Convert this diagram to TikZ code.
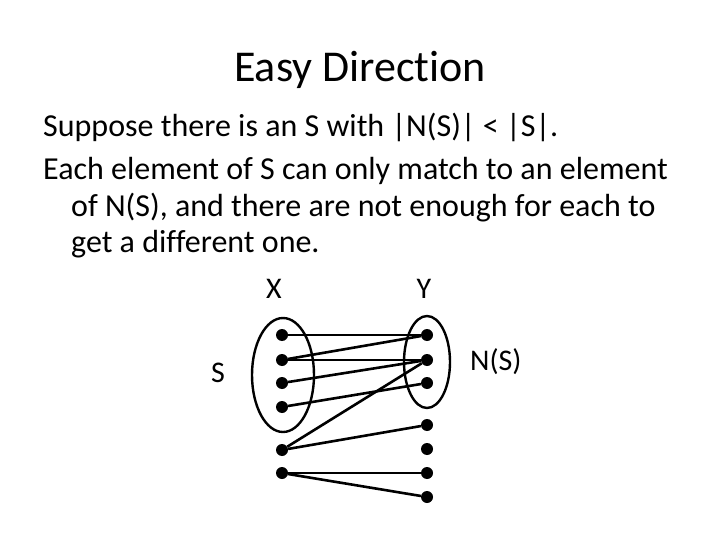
\documentclass[tikz,border=0pt]{standalone}
\usepackage{fontspec}
\setmainfont[Ligatures=NoCommon]{Carlito}
\tikzset{
  dot/.style={circle,fill=black,inner sep=0pt,minimum size=12pt},
  edge/.style={line width=2.6pt},
  body/.style={anchor=base west,font=\fontsize{32}{38}\selectfont,inner sep=0pt},
  lbl/.style={anchor=base,font=\fontsize{30}{36}\selectfont,inner sep=0pt}
}
\begin{document}
\begin{tikzpicture}[x=1pt,y=-1pt]
  \useasboundingbox[fill=white] (0,0) rectangle (720,540);

  \node[anchor=base,font=\fontsize{44}{52}\selectfont,inner sep=0pt] (title) at (360,82)
    {Easy Direction};
  \node[body] (line1) at (43,137) {Suppose there is an S with |N(S)| < |S|.};
  \node[body] (line2) at (43,180) {Each element of S can only match to an element};
  \node[body] (line3) at (71,216) {of N(S), and there are not enough for each to};
  \node[body] (line4) at (71,252) {get a different one.};

  \node[lbl] (labX) at (274,298) {X};
  \node[lbl] (labY) at (424,298) {Y};
  \node[lbl] (labS) at (218,382) {S};
  \node[lbl,anchor=base west] (labNS) at (470,370) {N(S)};

  \draw[line width=2.4pt] (283,375) ellipse (31 and 57);
  \draw[line width=2.4pt] (427,362) ellipse (23 and 46);

  \foreach \n/\y in {1/335,2/360,3/383,4/407,5/450,6/473}
    \node[dot] (l\n) at (282,\y) {};
  \foreach \n/\y in {1/335,2/360,3/383,4/425,5/449,6/473,7/497}
    \node[dot] (r\n) at (427,\y) {};

  \draw[edge] (l1) -- (r1);
  \draw[edge] (l2) -- (r1);
  \draw[edge] (l2) -- (r2);
  \draw[edge] (l3) -- (r2);
  \draw[edge] (l4) -- (r3);
  \draw[edge] (l5) -- (r2);
  \draw[edge] (l5) -- (r4);
  \draw[edge] (l6) -- (r6);
  \draw[edge] (l6) -- (r7);
\end{tikzpicture}
\end{document}
